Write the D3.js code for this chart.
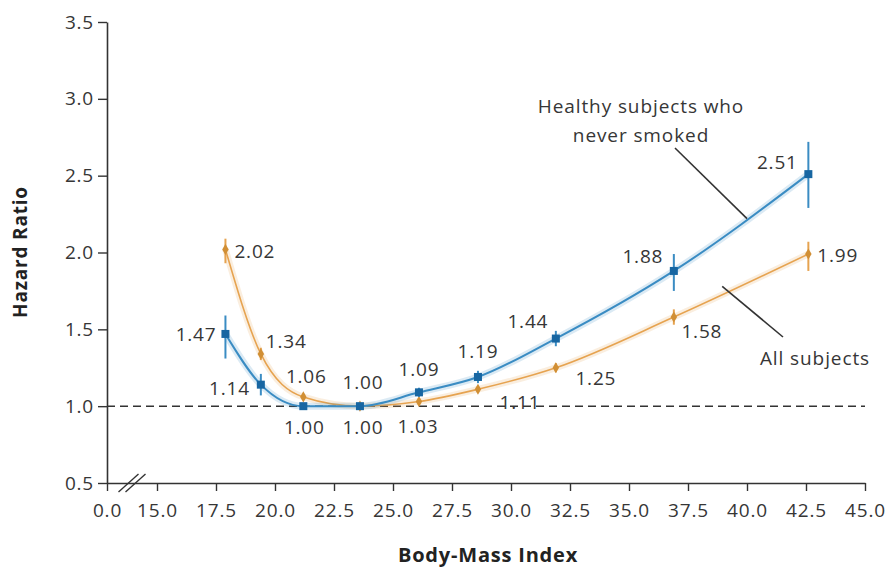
<!DOCTYPE html>
<html>
<head>
<meta charset="utf-8">
<script src="https://cdn.jsdelivr.net/npm/d3@7"></script>
<style>
  html, body { margin: 0; padding: 0; background: #fff; }
  svg { display: block; }
  text { font-family: "Open Sans", "DejaVu Sans", sans-serif; }
</style>
</head>
<body>
<svg id="chart" width="890" height="570"></svg>
<script>
// ---- data ----
const bmi = [17.9, 19.4, 21.2, 23.6, 26.1, 28.6, 31.9, 36.9, 42.6];
const healthyHR = [1.47, 1.14, 1.00, 1.00, 1.09, 1.19, 1.44, 1.88, 2.51];
const healthyLo = [1.31, 1.07, 0.98, 0.98, 1.06, 1.15, 1.39, 1.75, 2.29];
const healthyHi = [1.59, 1.21, 1.02, 1.02, 1.12, 1.23, 1.49, 1.99, 2.72];
const allHR = [2.02, 1.34, 1.06, 1.00, 1.03, 1.11, 1.25, 1.58, 1.99];
const allLo = [1.93, 1.30, 1.04, 0.99, 1.01, 1.09, 1.22, 1.53, 1.88];
const allHi = [2.09, 1.38, 1.08, 1.01, 1.05, 1.13, 1.28, 1.63, 2.07];
const xTicks = [0, 15, 17.5, 20, 22.5, 25, 27.5, 30, 32.5, 35, 37.5, 40, 42.5, 45];
const yTicks = [0.5, 1.0, 1.5, 2.0, 2.5, 3.0, 3.5];
const seriesNames = ["Healthy subjects who|never smoked", "All subjects"];

// ---- label placement (pixel offsets from each point) ----
const healthyLabelPos = [
  {a: "end", dx: -9, dy: 0}, {a: "end", dx: -11, dy: 4}, {a: "middle", dx: 1, dy: 21},
  {a: "middle", dx: 3, dy: 21}, {a: "middle", dx: 0, dy: -23}, {a: "middle", dx: 0, dy: -26},
  {a: "middle", dx: -28, dy: -17}, {a: "middle", dx: -31, dy: -15}, {a: "middle", dx: -31, dy: -12}
];
const allLabelPos = [
  {a: "start", dx: 9, dy: 2}, {a: "start", dx: 5, dy: -13}, {a: "middle", dx: 3, dy: -21},
  {a: "middle", dx: 3, dy: -24}, {a: "middle", dx: -1, dy: 25}, {a: "middle", dx: 42, dy: 13},
  {a: "middle", dx: 40, dy: 11}, {a: "middle", dx: 28, dy: 14}, {a: "start", dx: 9, dy: 1}
];

const svg = d3.select("#chart");
const x = d3.scaleLinear().domain([0, 15, 45]).range([107, 157, 865]);
const y = d3.scaleLinear().domain([0.5, 3.5]).range([483, 22]);

const txtColor = "#363636";
const blue = "#3a8cc3", blueDark = "#1766a2";
const orange = "#e6a350", orangeDark = "#d18f35";
const numFont = {size: "19px", ls: "0.8px"};

// axes
const xAxis = svg.append("g").attr("transform", `translate(0,${y(0.5)})`)
  .call(d3.axisBottom(x).tickValues(xTicks).tickFormat(d3.format(".1f")).tickSize(8).tickSizeOuter(0));
const yAxis = svg.append("g").attr("transform", `translate(${x(0)},0)`)
  .call(d3.axisLeft(y).tickValues(yTicks).tickFormat(d3.format(".1f")).tickSize(9).tickSizeOuter(0));
[xAxis, yAxis].forEach(g => {
  g.select(".domain").attr("stroke", "#333").attr("stroke-width", 1.6);
  g.selectAll(".tick line").attr("stroke", "#333").attr("stroke-width", 1.4);
  g.selectAll(".tick text").attr("fill", txtColor).style("font-size", numFont.size)
    .style("letter-spacing", numFont.ls)
    .style("font-family", '"Open Sans", sans-serif');
});
xAxis.selectAll(".tick text").attr("dy", "0").attr("y", 34);
yAxis.selectAll(".tick text").attr("x", -13);

// axis break marks
const bx = (x(0) + x(15)) / 2;
[-3.5, 3.5].forEach(o => {
  svg.append("line")
    .attr("x1", bx + o - 10).attr("y1", y(0.5) + 9)
    .attr("x2", bx + o + 10).attr("y2", y(0.5) - 9)
    .attr("stroke", "#333").attr("stroke-width", 1.4);
});

// reference line at 1.0
svg.append("line")
  .attr("x1", x(0)).attr("x2", x(45)).attr("y1", y(1)).attr("y2", y(1))
  .attr("stroke", "#333").attr("stroke-width", 1.5).attr("stroke-dasharray", "8,5");

// axis titles
svg.append("text").attr("transform", `translate(27,252) rotate(-90)`)
  .attr("text-anchor", "middle").attr("fill", "#222").style("letter-spacing", "0.8px")
  .style("font-size", "19px").style("font-weight", "bold").text("Hazard Ratio");
svg.append("text").attr("x", 488).attr("y", 562).attr("text-anchor", "middle")
  .attr("fill", "#222").style("font-size", "20px").style("letter-spacing", "0.8px")
  .style("font-weight", "bold").text("Body-Mass Index");

const line = d3.line().x(d => x(d[0])).y(d => y(d[1])).curve(d3.curveMonotoneX);

function drawSeries(vals, lo, hi, col, dark, width, marker, labelPos) {
  const pts = bmi.map((b, i) => [b, vals[i]]);
  const g = svg.append("g");
  g.append("path").attr("d", line(pts)).attr("fill", "none")
    .attr("stroke", col).attr("stroke-opacity", 0.18).attr("stroke-width", width + 5);
  g.append("path").attr("d", line(pts)).attr("fill", "none")
    .attr("stroke", col).attr("stroke-width", width);
  g.selectAll(".eb").data(bmi).join("line")
    .attr("x1", d => x(d)).attr("x2", d => x(d))
    .attr("y1", (d, i) => y(lo[i])).attr("y2", (d, i) => y(hi[i]))
    .attr("stroke", col).attr("stroke-width", 2);
  if (marker === "square") {
    g.selectAll(".mk").data(pts).join("rect")
      .attr("x", d => x(d[0]) - 4).attr("y", d => y(d[1]) - 4)
      .attr("width", 8).attr("height", 8).attr("fill", dark);
  } else {
    g.selectAll(".mk").data(pts).join("path")
      .attr("d", d3.symbol(d3.symbolDiamond, 36))
      .attr("transform", d => `translate(${x(d[0])},${y(d[1])})`).attr("fill", dark);
  }
  g.selectAll(".lb").data(pts).join("text")
    .attr("x", (d, i) => x(d[0]) + labelPos[i].dx)
    .attr("y", (d, i) => y(d[1]) + labelPos[i].dy)
    .attr("dy", "0.35em")
    .attr("text-anchor", (d, i) => labelPos[i].a)
    .attr("fill", txtColor).style("font-size", numFont.size).style("letter-spacing", numFont.ls)
    .text(d => d3.format(".2f")(d[1]));
}

drawSeries(allHR, allLo, allHi, orange, orangeDark, 1.6, "diamond", allLabelPos);
drawSeries(healthyHR, healthyLo, healthyHi, blue, blueDark, 2, "square", healthyLabelPos);

// series annotations with leader lines
const ann1 = svg.append("text").attr("x", 641).attr("y", 106).attr("text-anchor", "middle")
  .attr("fill", txtColor).style("font-size", "19px").style("letter-spacing", "0.9px");
seriesNames[0].split("|").forEach((t, i) => {
  ann1.append("tspan").attr("x", 641).attr("dy", i === 0 ? "0.35em" : "29px").text(t);
});
svg.append("line").attr("x1", 675).attr("y1", 148).attr("x2", x(40)).attr("y2", y(2.22))
  .attr("stroke", "#333").attr("stroke-width", 1.6);

svg.append("text").attr("x", 815).attr("y", 358).attr("dy", "0.35em").attr("text-anchor", "middle")
  .attr("fill", txtColor).style("font-size", "19px").style("letter-spacing", "0.9px").text(seriesNames[1]);
svg.append("line").attr("x1", x(38.95)).attr("y1", y(1.78)).attr("x2", 783).attr("y2", 337)
  .attr("stroke", "#333").attr("stroke-width", 1.6);
</script>
</body>
</html>
